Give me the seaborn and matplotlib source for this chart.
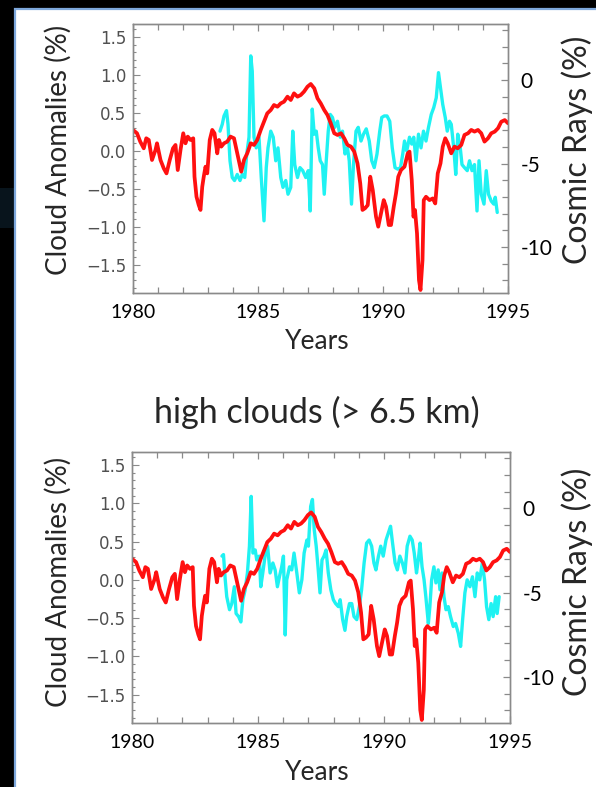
import matplotlib
matplotlib.use("Agg")
import matplotlib.pyplot as plt
from matplotlib.patches import Rectangle
from matplotlib.ticker import MultipleLocator, FixedLocator
import pandas as pd
import seaborn as sns

# Cosmic ray flux change (%), shared by both panels
cosmic_years = [1980.00, 1980.16, 1980.29, 1980.43, 1980.53, 1980.63, 1980.76, 1980.90, 1980.96, 1981.10,
                1981.23, 1981.34, 1981.47, 1981.60, 1981.70, 1981.79, 1981.90, 1982.01, 1982.10, 1982.19,
                1982.30, 1982.41, 1982.46, 1982.54, 1982.63, 1982.70, 1982.77, 1982.83, 1982.90, 1982.97,
                1983.07, 1983.17, 1983.26, 1983.37, 1983.44, 1983.53, 1983.64, 1983.77, 1983.90, 1984.04,
                1984.17, 1984.33, 1984.44, 1984.57, 1984.71, 1984.84, 1984.97, 1985.11, 1985.24, 1985.37,
                1985.51, 1985.64, 1985.78, 1985.91, 1986.04, 1986.18, 1986.31, 1986.44, 1986.58, 1986.71,
                1986.84, 1986.98, 1987.11, 1987.25, 1987.38, 1987.51, 1987.65, 1987.78, 1987.91, 1988.05,
                1988.18, 1988.32, 1988.45, 1988.58, 1988.72, 1988.85, 1988.98, 1989.09, 1989.18, 1989.28,
                1989.39, 1989.49, 1989.59, 1989.72, 1989.81, 1989.92, 1990.03, 1990.12, 1990.23, 1990.32,
                1990.43, 1990.52, 1990.61, 1990.72, 1990.86, 1990.99, 1991.06, 1991.15, 1991.22, 1991.28,
                1991.36, 1991.44, 1991.50, 1991.58, 1991.63, 1991.72, 1991.86, 1991.99, 1992.09, 1992.19,
                1992.30, 1992.39, 1992.49, 1992.59, 1992.73, 1992.86, 1992.99, 1993.13, 1993.26, 1993.40,
                1993.53, 1993.66, 1993.80, 1993.93, 1994.06, 1994.20, 1994.33, 1994.47, 1994.60, 1994.73,
                1994.87, 1995.00]
cosmic_pct = [-2.99, -3.19, -3.69, -4.09, -3.49, -3.59, -4.79, -4.19, -3.79, -4.79,
              -5.29, -5.59, -4.79, -4.09, -3.89, -5.39, -4.19, -3.19, -3.79, -3.39,
              -3.59, -3.49, -5.79, -6.99, -7.49, -7.78, -6.39, -5.79, -5.19, -5.59,
              -3.59, -2.99, -3.19, -4.39, -3.59, -3.99, -3.79, -3.69, -3.39, -3.49,
              -4.39, -5.49, -4.79, -4.39, -3.79, -3.89, -3.59, -2.99, -2.50, -2.00,
              -1.80, -1.50, -1.60, -1.40, -1.30, -1.00, -1.20, -0.80, -1.00, -0.90,
              -0.70, -0.40, -0.24, -0.50, -1.10, -1.40, -1.80, -2.10, -2.59, -3.19,
              -3.29, -3.19, -3.49, -3.89, -3.99, -4.29, -4.99, -6.19, -7.78, -7.68,
              -7.49, -5.79, -6.59, -8.18, -8.78, -7.98, -7.19, -7.58, -8.68, -8.68,
              -7.58, -6.79, -5.79, -5.39, -5.19, -4.39, -4.29, -5.99, -8.18, -7.78,
              -9.18, -11.98, -12.57, -10.78, -7.19, -6.99, -7.19, -7.09, -7.39, -5.59,
              -4.99, -3.99, -3.49, -3.79, -4.39, -3.99, -4.09, -3.89, -3.29, -3.19,
              -2.99, -3.09, -2.99, -3.19, -3.69, -3.49, -3.19, -3.09, -2.89, -2.50,
              -2.40, -2.59]

# Cloud anomalies (%), upper panel
cloud_top_years = [1983.48, 1983.57, 1983.64, 1983.74, 1983.80, 1983.88, 1983.97, 1984.06, 1984.17, 1984.28,
                   1984.37, 1984.47, 1984.55, 1984.64, 1984.71, 1984.77, 1984.84, 1984.93, 1985.04, 1985.13,
                   1985.24, 1985.33, 1985.40, 1985.51, 1985.61, 1985.71, 1985.80, 1985.91, 1986.00, 1986.11,
                   1986.20, 1986.31, 1986.39, 1986.47, 1986.58, 1986.68, 1986.79, 1986.91, 1987.01, 1987.09,
                   1987.17, 1987.25, 1987.33, 1987.41, 1987.49, 1987.58, 1987.65, 1987.73, 1987.81, 1987.89,
                   1987.98, 1988.07, 1988.18, 1988.29, 1988.38, 1988.48, 1988.58, 1988.65, 1988.74, 1988.82,
                   1988.92, 1989.01, 1989.12, 1989.22, 1989.33, 1989.45, 1989.55, 1989.65, 1989.76, 1989.87,
                   1989.95, 1990.05, 1990.16, 1990.27, 1990.37, 1990.48, 1990.59, 1990.70, 1990.79, 1990.86,
                   1990.95, 1991.06, 1991.15, 1991.23, 1991.32, 1991.42, 1991.52, 1991.62, 1991.72, 1991.82,
                   1991.93, 1992.03, 1992.13, 1992.22, 1992.30, 1992.39, 1992.49, 1992.57, 1992.66, 1992.73,
                   1992.83, 1992.91, 1992.99, 1993.09, 1993.16, 1993.26, 1993.37, 1993.46, 1993.56, 1993.66,
                   1993.76, 1993.84, 1993.93, 1994.04, 1994.13, 1994.22, 1994.33, 1994.43, 1994.49, 1994.57]
cloud_top_pct = [0.26, 0.35, 0.46, 0.53, 0.35, -0.13, -0.35, -0.39, -0.31, -0.39,
                 -0.31, -0.35, -0.04, 0.18, 1.25, 1.05, 0.18, 0.04, 0.18, -0.35,
                 -0.92, -0.22, 0.04, 0.26, 0.18, -0.13, 0.04, -0.35, -0.48, -0.39,
                 -0.57, -0.48, 0.26, -0.18, -0.35, -0.22, -0.26, -0.35, -0.26, -0.79,
                 0.55, 0.22, 0.26, 0.04, -0.13, -0.18, -0.57, -0.13, 0.26, 0.48,
                 0.44, 0.31, 0.39, 0.18, 0.26, -0.04, 0.04, -0.13, -0.70, -0.18,
                 0.26, 0.31, 0.13, 0.22, 0.29, 0.13, -0.13, -0.22, -0.04, 0.26,
                 0.44, 0.46, 0.46, 0.39, 0.04, -0.22, -0.24, -0.22, -0.04, 0.13,
                 0.00, 0.18, 0.09, 0.18, -0.13, 0.22, 0.04, 0.26, 0.13, 0.31,
                 0.48, 0.57, 0.70, 1.03, 0.83, 0.61, 0.44, 0.26, 0.39, 0.35,
                 0.04, -0.31, 0.22, 0.04, -0.18, -0.22, -0.26, -0.13, -0.26, -0.18,
                 -0.79, -0.13, -0.57, -0.70, -0.26, -0.57, -0.66, -0.70, -0.61, -0.81]

# High cloud anomalies (%), lower panel
high_cloud_years = [1983.57, 1983.63, 1983.70, 1983.76, 1983.87, 1983.96, 1984.06, 1984.13, 1984.23, 1984.32,
                    1984.40, 1984.49, 1984.58, 1984.66, 1984.73, 1984.80, 1984.89, 1984.95, 1985.05, 1985.11,
                    1985.19, 1985.28, 1985.38, 1985.48, 1985.59, 1985.68, 1985.77, 1985.85, 1985.94, 1986.01,
                    1986.08, 1986.14, 1986.25, 1986.34, 1986.43, 1986.54, 1986.64, 1986.74, 1986.83, 1986.94,
                    1987.00, 1987.09, 1987.16, 1987.23, 1987.31, 1987.38, 1987.46, 1987.54, 1987.62, 1987.70,
                    1987.79, 1987.89, 1987.99, 1988.08, 1988.19, 1988.26, 1988.36, 1988.45, 1988.52, 1988.63,
                    1988.72, 1988.81, 1988.92, 1989.02, 1989.11, 1989.21, 1989.31, 1989.41, 1989.51, 1989.60,
                    1989.68, 1989.78, 1989.87, 1989.97, 1990.08, 1990.17, 1990.26, 1990.34, 1990.44, 1990.53,
                    1990.63, 1990.73, 1990.83, 1990.92, 1991.03, 1991.12, 1991.20, 1991.29, 1991.36, 1991.43,
                    1991.51, 1991.59, 1991.66, 1991.76, 1991.82, 1991.89, 1991.98, 1992.06, 1992.15, 1992.22,
                    1992.30, 1992.38, 1992.46, 1992.55, 1992.64, 1992.75, 1992.84, 1992.95, 1993.04, 1993.12,
                    1993.21, 1993.30, 1993.41, 1993.51, 1993.61, 1993.70, 1993.80, 1993.90, 1993.99, 1994.07,
                    1994.16, 1994.25, 1994.33, 1994.43, 1994.49, 1994.57]
high_cloud_pct = [0.31, 0.33, 0.00, -0.22, -0.39, -0.31, -0.09, -0.44, -0.48, -0.55,
                  -0.26, -0.13, 0.09, 0.44, 1.09, 0.35, 0.39, 0.26, 0.31, -0.09,
                  0.09, 0.31, 0.44, 0.09, 0.22, 0.13, -0.09, 0.04, 0.17, 0.31,
                  -0.72, 0.00, 0.17, 0.13, 0.35, 0.09, -0.17, 0.00, 0.35, 0.52,
                  0.44, 0.96, 1.05, 0.66, 0.44, 0.17, -0.17, 0.26, 0.31, 0.39,
                  0.09, -0.13, -0.26, -0.31, -0.35, -0.26, -0.52, -0.66, -0.48, -0.31,
                  -0.31, -0.48, -0.52, -0.35, -0.13, 0.22, 0.48, 0.52, 0.44, 0.22,
                  0.13, 0.31, 0.44, 0.31, 0.52, 0.61, 0.70, 0.48, 0.22, 0.13,
                  0.31, 0.22, 0.09, 0.44, 0.57, 0.52, 0.35, 0.09, 0.26, 0.48,
                  0.17, 0.00, -0.22, -0.57, -0.35, 0.00, 0.17, -0.04, 0.13, -0.13,
                  0.09, -0.22, -0.39, -0.35, -0.48, -0.61, -0.57, -0.70, -0.87, -0.52,
                  -0.17, 0.00, -0.09, 0.04, -0.22, 0.09, 0.00, 0.22, 0.00, -0.35,
                  -0.52, -0.31, -0.48, -0.22, -0.44, -0.22]

year_ticks = [1980, 1985, 1990, 1995]
cloud_ticks = [-1.5, -1.0, -0.5, 0.0, 0.5, 1.0, 1.5]
cosmic_ticks = [0, -5, -10]
cosmic_tick_labels = ["0", "-5", "-10"]
panel_title = "high clouds (> 6.5 km)"

sns.set_theme(style="white")
plt.rcParams["font.family"] = ["Lato", "DejaVu Sans"]

W, H = 596, 787
fig = plt.figure(figsize=(W / 100, H / 100), dpi=100, facecolor="black")

# slide-like white card on a dark background
fig.patches.append(Rectangle((0, 1 - 228 / H), 15 / W, 40 / H, transform=fig.transFigure,
                             facecolor="#08141c", edgecolor="none", zorder=-20))
fig.patches.append(Rectangle((15 / W, -0.01), 1.0, 1.01 - 9 / H, transform=fig.transFigure,
                             facecolor="white", edgecolor="#7ea8dc", lw=1.6, zorder=-10))

SPINE = "#8a8a8a"


def draw_panel(box, cloud_years, cloud_pct, label_mid):
    left, top, right, bottom = box
    ax = fig.add_axes([left / W, 1 - bottom / H, (right - left) / W, (bottom - top) / H])
    ax.set_facecolor("white")
    cloud_df = pd.DataFrame({"year": cloud_years, "pct": cloud_pct})
    sns.lineplot(data=cloud_df, x="year", y="pct", ax=ax, color="#1ff2f2", lw=2.4,
                 estimator=None, sort=False)
    ax.set_xlim(1980, 1995)
    ax.set_ylim(-1.87, 1.67)
    ax.set_xlabel("")
    ax.set_ylabel("")

    ax.xaxis.set_major_locator(FixedLocator(year_ticks))
    ax.xaxis.set_minor_locator(MultipleLocator(1))
    ax.yaxis.set_major_locator(FixedLocator(cloud_ticks))
    ax.yaxis.set_minor_locator(MultipleLocator(0.1))
    ax.set_yticklabels([f"{v:.1f}".replace("-", "\u2212") for v in cloud_ticks],
                       fontfamily="DejaVu Sans", fontsize=12, color="#505050")
    ax.set_xticklabels([str(y) for y in year_ticks], fontsize=14, color="black")
    ax.tick_params(axis="x", which="both", direction="in", top=True, bottom=True,
                   color=SPINE, width=0.9)
    ax.tick_params(axis="x", which="major", length=5, pad=8)
    ax.tick_params(axis="x", which="minor", length=4)
    ax.tick_params(axis="y", which="both", direction="in", left=True, right=False,
                   color=SPINE, width=0.8)
    ax.tick_params(axis="y", which="major", length=5, pad=5)
    ax.tick_params(axis="y", which="minor", length=2.5)
    for sp in ax.spines.values():
        sp.set_color(SPINE)
        sp.set_linewidth(1.0)

    ax2 = ax.twinx()
    cosmic_df = pd.DataFrame({"year": cosmic_years, "pct": cosmic_pct})
    sns.lineplot(data=cosmic_df, x="year", y="pct", ax=ax2, color="#ff1010", lw=2.7,
                 estimator=None, sort=False)
    ax2.set_ylim(-12.75, 3.35)
    ax2.set_xlim(1980, 1995)
    ax2.set_ylabel("")
    ax2.yaxis.set_major_locator(FixedLocator(cosmic_ticks))
    ax2.yaxis.set_minor_locator(MultipleLocator(1))
    ax2.set_yticklabels(cosmic_tick_labels, fontsize=15, color="black")
    ax2.tick_params(axis="y", which="both", direction="in", right=True, color=SPINE, width=0.9)
    ax2.tick_params(axis="y", which="major", length=5, pad=9)
    ax2.tick_params(axis="y", which="minor", length=4)
    for sp in ax2.spines.values():
        sp.set_color(SPINE)
        sp.set_linewidth(1.0)

    fig.text(58 / W, 1 - label_mid / H, "Cloud Anomalies (%)", fontsize=20, rotation=90,
             ha="center", va="center")
    fig.text(577 / W, 1 - label_mid / H, "Cosmic Rays (%)", fontsize=23, rotation=90,
             ha="center", va="center")
    return ax


draw_panel((133, 24, 508, 293), cloud_top_years, cloud_top_pct, 150)
fig.text(317 / W, 1 - 341 / H, "Years", fontsize=19, ha="center", va="center")

fig.text(317 / W, 1 - 412 / H, panel_title, fontsize=24.5, ha="center", va="center")

draw_panel((132, 452, 510, 723), high_cloud_years, high_cloud_pct, 582)
fig.text(317 / W, 1 - 773 / H, "Years", fontsize=19, ha="center", va="center")

fig.savefig("out.png", dpi=100, facecolor=fig.get_facecolor())
